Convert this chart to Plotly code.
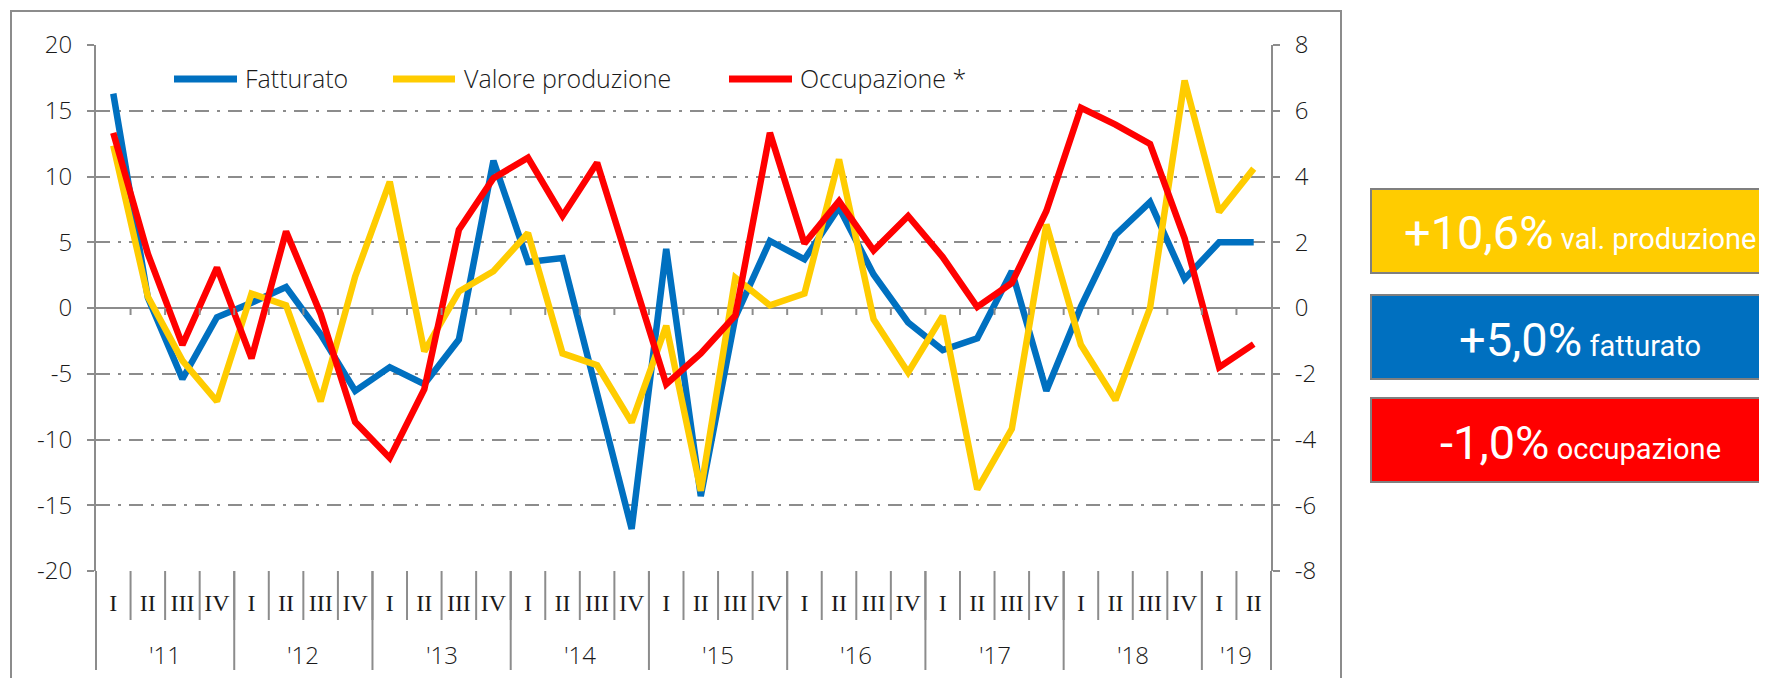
import plotly.graph_objects as go

# ---------------- data ----------------
quarters = ["I", "II", "III", "IV"] * 8 + ["I", "II"]
years = ["'11", "'12", "'13", "'14", "'15", "'16", "'17", "'18", "'19"]
quarters_per_year = [4, 4, 4, 4, 4, 4, 4, 4, 2]

fatturato = [16.3, 0.8, -5.4, -0.7, 0.4, 1.6, -2.0, -6.3,
             -4.5, -5.8, -2.4, 11.2, 3.5, 3.8, -6.5, -16.8,
             4.5, -14.3, -0.7, 5.1, 3.7, 7.65, 2.55, -1.1,
             -3.2, -2.3, 2.8, -6.3, 0.1, 5.55, 8.05, 2.2,
             5.0, 5.0]
valore_produzione = [12.35, 0.86, -4.0, -7.1, 1.1, 0.2, -7.1, 2.4,
                     9.6, -3.3, 1.25, 2.8, 5.7, -3.45, -4.35, -8.7,
                     -1.35, -13.9, 2.3, 0.2, 1.1, 11.3, -0.85, -4.9,
                     -0.6, -13.8, -9.2, 6.35, -2.8, -7.0, 0.0, 17.3,
                     7.3, 10.6]
occupazione = [5.33, 1.65, -1.12, 1.23, -1.53, 2.33, -0.18, -3.47,
               -4.56, -2.47, 2.38, 3.95, 4.57, 2.8, 4.42, 1.07,
               -2.32, -1.38, -0.23, 5.33, 1.96, 3.25, 1.75, 2.8,
               1.55, 0.03, 0.76, 2.95, 6.09, 5.58, 4.99, 2.12,
               -1.8, -1.1]

series_names = ["Fatturato", "Valore produzione", "Occupazione *"]
series_colors = ["#0070C0", "#FFCC00", "#FF0000"]

left_tickvals = [20, 15, 10, 5, 0, -5, -10, -15, -20]
left_ticktext = ["20", "15", "10", "5", "0", "-5", "-10", "-15", "-20"]
right_tickvals = [8, 6, 4, 2, 0, -2, -4, -6, -8]
right_ticktext = ["8", "6", "4", "2", "0", "-2", "-4", "-6", "-8"]

box_values = ["+10,6%", "+5,0%", "-1,0%"]
box_labels = ["val. produzione", "fatturato", "occupazione"]
box_colors = ["#FFCC00", "#0070C0", "#FF0000"]

# ---------------- geometry helpers ----------------
OFF = 8  # page body margin
W, H = 1767 - OFF, 678 - OFF
L, R, T, B = 96 - OFF, 1271 - OFF, 45 - OFF, 571 - OFF
GRAY = "#8C8C8C"
FONT = "Open Sans"
BOXFONT = "Roboto"
TXT = "#1a1a1a"


def px(x):
    return (x - OFF - L) / (R - L)


def py(y):
    return (B - (y - OFF)) / (B - T)


n = len(quarters)
xs = list(range(n))
xmin, xmax = -0.5, n - 0.5


def xfrac(v):
    return (v - xmin) / (xmax - xmin)


fig = go.Figure()
series = [fatturato, valore_produzione, occupazione]
axes = ["y", "y", "y2"]
for name, vals, col, ax in zip(series_names, series, series_colors, axes):
    fig.add_trace(go.Scatter(x=xs, y=vals, name=name, mode="lines",
                             line=dict(color=col, width=6.5),
                             yaxis=ax, showlegend=False))

shapes = []
# outer frame
shapes.append(dict(type="rect", xref="paper", yref="paper",
                   x0=px(11), x1=px(1341), y0=py(11), y1=py(720),
                   line=dict(color=GRAY, width=2), layer="below"))
# quarter separators below the axis
for b in [i - 0.5 for i in range(n + 1)]:
    shapes.append(dict(type="line", xref="paper", yref="paper",
                       x0=xfrac(b), x1=xfrac(b), y0=0, y1=py(620),
                       line=dict(color=GRAY, width=2)))
# year separators
pos = -0.5
year_bounds = [pos]
year_centers = []
for q in quarters_per_year:
    year_centers.append(pos + q / 2)
    pos += q
    year_bounds.append(pos)
for b in year_bounds:
    shapes.append(dict(type="line", xref="paper", yref="paper",
                       x0=xfrac(b), x1=xfrac(b), y0=0, y1=py(670),
                       line=dict(color=GRAY, width=2)))
# ticks on the zero line
zero_frac = (0 - (-20)) / 40
for b in [i + 0.5 for i in range(n - 1)]:
    shapes.append(dict(type="line", xref="paper", yref="paper",
                       x0=xfrac(b), x1=xfrac(b), y0=zero_frac,
                       y1=zero_frac - 7 / (B - T),
                       line=dict(color=GRAY, width=2)))

annotations = []
for yl, c in zip(years, year_centers):
    annotations.append(dict(x=xfrac(c), y=py(654), xref="paper", yref="paper",
                            text=yl, showarrow=False, xanchor="center",
                            yanchor="middle",
                            font=dict(family=FONT, size=24, color=TXT, weight=300)))

# custom legend
leg_lines = [(174, 237), (393, 455), (729, 792)]
leg_text_x = [243, 462, 798]
for (a, b), tx, name, col in zip(leg_lines, leg_text_x, series_names, series_colors):
    shapes.append(dict(type="line", xref="paper", yref="paper",
                       x0=px(a), x1=px(b), y0=py(79), y1=py(79),
                       line=dict(color=col, width=7)))
    annotations.append(dict(x=px(tx), y=py(78), xref="paper", yref="paper",
                            text=name, showarrow=False, xanchor="left",
                            yanchor="middle",
                            font=dict(family=FONT, size=25, color=TXT, weight=300)))

# summary boxes
box_y = [(189, 273), (295, 379), (398, 482)]
for (y0, y1), v, lab, col in zip(box_y, box_values, box_labels, box_colors):
    shapes.append(dict(type="rect", xref="paper", yref="paper",
                       x0=px(1371), x1=px(1800), y0=py(y0), y1=py(y1),
                       fillcolor=col, line=dict(color="#7F7F7F", width=2)))
    annotations.append(dict(x=px(1580), y=py((y0 + y1) / 2 + 2), xref="paper",
                            yref="paper", showarrow=False,
                            xanchor="center", yanchor="middle",
                            text=f"<span style='font-size:47px'>{v}</span> "
                                 f"<span style='font-size:29px'>{lab}</span>",
                            font=dict(family=BOXFONT, size=29, color="white")))

fig.update_layout(
    width=W, height=H,
    margin=dict(l=L, r=W - R, t=T, b=H - B),
    paper_bgcolor="white", plot_bgcolor="white",
    showlegend=False,
    shapes=shapes, annotations=annotations,
    xaxis=dict(range=[xmin, xmax], tickmode="array", tickvals=xs,
               ticktext=quarters, ticks="", showgrid=False, zeroline=False,
               showline=False, ticklabelstandoff=15,
               tickfont=dict(family="Liberation Serif", size=24, color=TXT)),
    yaxis=dict(range=[-20, 20], tickmode="array", tickvals=left_tickvals,
               ticktext=left_ticktext, ticks="outside", ticklen=7,
               tickwidth=2, tickcolor=GRAY, showline=True, linecolor=GRAY,
               linewidth=2, showgrid=True, gridcolor=GRAY, gridwidth=2,
               griddash="14px,8px,3px,8px", zeroline=True,
               zerolinecolor=GRAY, zerolinewidth=2, ticklabelstandoff=10,
               tickfont=dict(family=FONT, size=24, color=TXT, weight=300)),
    yaxis2=dict(range=[-8, 8], overlaying="y", side="right",
                tickmode="array", tickvals=right_tickvals,
                ticktext=right_ticktext, ticks="outside", ticklen=7,
                tickwidth=2, tickcolor=GRAY, showline=True, linecolor=GRAY,
                linewidth=2, showgrid=False, zeroline=False,
                ticklabelstandoff=10,
                tickfont=dict(family=FONT, size=24, color=TXT, weight=300)),
)

fig.write_html("out.html")
